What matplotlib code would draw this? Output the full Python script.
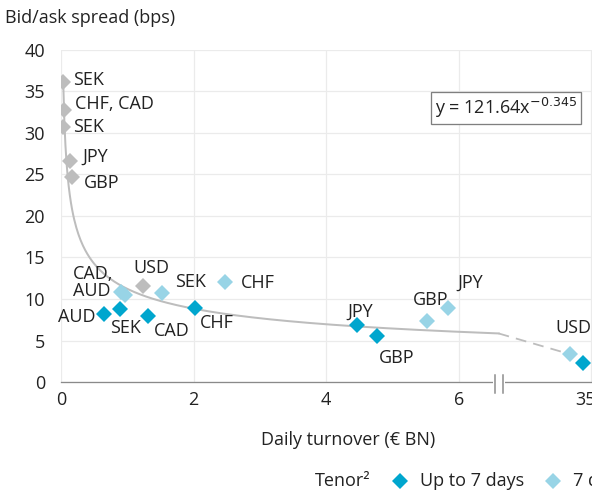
import numpy as np
import matplotlib
matplotlib.use("Agg")
import matplotlib.pyplot as plt
import matplotlib.transforms as mtransforms
from matplotlib.lines import Line2D

plt.rcParams['font.family'] = ['Open Sans', 'DejaVu Sans']

# data (turnover in EUR bn, spread in bps)
grey_x = [0.034, 0.045, 0.03, 0.135, 0.17, 1.24]
grey_y = [36.1, 32.8, 30.7, 26.6, 24.7, 11.6]
grey_lbl = ['SEK', 'CHF, CAD', 'SEK', 'JPY', 'GBP', 'USD']

dark_x = [0.65, 0.89, 1.31, 2.02, 4.46, 4.77, 34.2]
dark_y = [8.2, 8.8, 7.95, 8.9, 6.9, 5.55, 2.3]
dark_lbl = ['AUD', 'SEK', 'CAD', 'CHF', 'JPY', 'GBP', '']

light_x = [0.90, 0.97, 1.52, 2.47, 5.52, 5.83, 32.8]
light_y = [10.8, 10.5, 10.7, 12.05, 7.3, 8.9, 3.37]
light_lbl = ['', 'CAD,\nAUD', 'SEK', 'CHF', 'GBP', 'JPY', 'USD']

fit_a, fit_b = 121.64, -0.345
xticks = [0, 2, 4, 6, 35]
yticks = [0, 5, 10, 15, 20, 25, 30, 35, 40]

legend_lbl = ['Up to 7 days', '7 days to 1 month']

c_dark = '#00A6CE'
c_light = '#98D4E6'
c_grey = '#BDBDBD'
c_text = '#222222'
fs = 18

brk = 6.6


def mx(v):
    # broken x axis: 0-6.6 linear, then jump to 35
    v = np.asarray(v, dtype=float)
    return np.where(v <= brk, v, 8 - (35 - v) * 0.15)


fig = plt.figure(figsize=(592 / 72, 493 / 72), dpi=72)
ax = fig.add_axes([61 / 592, 111 / 493, 531 / 592, 332 / 493])
ax.set_xlim(0, 531 / 66.3)
ax.set_ylim(0, 40)

for s in ['left', 'right', 'top']:
    ax.spines[s].set_visible(False)
ax.spines['bottom'].set_color('#8a8a8a')
ax.spines['bottom'].set_linewidth(1.3)

ax.set_xticks(mx(xticks))
ax.set_xticklabels([str(t) for t in xticks])
ax.set_yticks(yticks)
ax.tick_params(length=0, labelsize=fs, colors=c_text)
ax.tick_params(axis='x', pad=9)
ax.tick_params(axis='y', pad=16)
ax.grid(True, color='#EBEBEB', lw=1.2)
ax.set_axisbelow(True)
# the "35" label sits a little left of its grid line
lab35 = ax.get_xticklabels()[-1]
lab35.set_transform(lab35.get_transform() +
                    mtransforms.ScaledTranslation(-6 / 72, 0, fig.dpi_scale_trans))

# trend line
xs = np.linspace(0.034, brk, 400)
ax.plot(xs, fit_a * (xs * 1000) ** fit_b, color=c_grey, lw=2, zorder=2)
xe = light_x[-1]
ax.plot(mx([brk, xe]), [fit_a * (brk * 1000) ** fit_b, fit_a * (xe * 1000) ** fit_b],
        color=c_grey, lw=1.8, dashes=(6, 4), zorder=2)

ms = 11
ax.plot(mx(grey_x), grey_y, 'D', color=c_grey, ms=ms, mew=0, zorder=3)
ax.plot(mx(light_x), light_y, 'D', color=c_light, ms=ms, mew=0, zorder=3)
ax.plot(mx(dark_x), dark_y, 'D', color=c_dark, ms=ms, mew=0, zorder=3)

# label offsets (points) per series
grey_off = [(10, 2, 'left'), (11, 6, 'left'), (10, 0, 'left'), (12, 4, 'left'),
            (12, -6, 'left'), (8, 18, 'center')]
dark_off = [(-9, -3, 'right'), (-10, -19, 'left'), (6, -15, 'left'), (5, -15, 'left'),
            (-9, 13, 'left'), (2, -22, 'left'), (0, 0, 'left')]
light_off = [(0, 0, 'left'), (-12, 12, 'right'), (13, 11, 'left'), (16, -1, 'left'),
             (-14, 21, 'left'), (10, 25, 'left'), (4, 26, 'center')]

for xv, yv, lbl, off in [(a, b, c, d) for xs_, ys_, ls_, os_ in
                         [(grey_x, grey_y, grey_lbl, grey_off),
                          (dark_x, dark_y, dark_lbl, dark_off),
                          (light_x, light_y, light_lbl, light_off)]
                         for a, b, c, d in zip(xs_, ys_, ls_, os_)]:
    if not lbl:
        continue
    ax.annotate(lbl, (float(mx(xv)), yv), xytext=(off[0], off[1]),
                textcoords='offset points', ha=off[2], va='center',
                fontsize=fs, color=c_text, multialignment='left',
                linespacing=0.95, zorder=4)

# equation box
ax.text(0.838, 0.825, 'y = 121.64x$^{-0.345}$', transform=ax.transAxes,
        ha='center', va='center', fontsize=fs, color=c_text,
        bbox=dict(boxstyle='square,pad=0.2', fc='white', ec='#7f7f7f', lw=1.3))

# axis break marks
trans = mtransforms.blended_transform_factory(ax.transData, ax.transAxes)
b1, b2 = (495 - 61) / 66.3, (503 - 61) / 66.3
ax.plot([b1, b2], [0, 0], color='white', lw=4, transform=trans, clip_on=False, zorder=5)
for b in (b1, b2):
    ax.plot([b, b], [-0.033, 0.021], color='#8a8a8a', lw=1.5, transform=trans,
            clip_on=False, zorder=6)

fig.text(5 / 592, 1 - 18 / 493, 'Bid/ask spread (bps)', fontsize=fs, color=c_text,
         ha='left', va='center')
fig.text(348 / 592, 1 - 440 / 493, 'Daily turnover (€ BN)', fontsize=fs, color=c_text,
         ha='center', va='center')

# legend
ly = 1 - 481 / 493
fig.text(315 / 592, ly, 'Tenor²', fontsize=fs, color=c_text, ha='left', va='center')
for px, col, lbl in [(400, c_dark, legend_lbl[0]), (553, c_light, legend_lbl[1])]:
    fig.add_artist(Line2D([px / 592], [ly], marker='D', color=col, ms=ms, mew=0,
                          transform=fig.transFigure))
    fig.text((px + 20) / 592, ly, lbl, fontsize=fs, color=c_text, ha='left', va='center')

fig.savefig('out.png', dpi=72)
